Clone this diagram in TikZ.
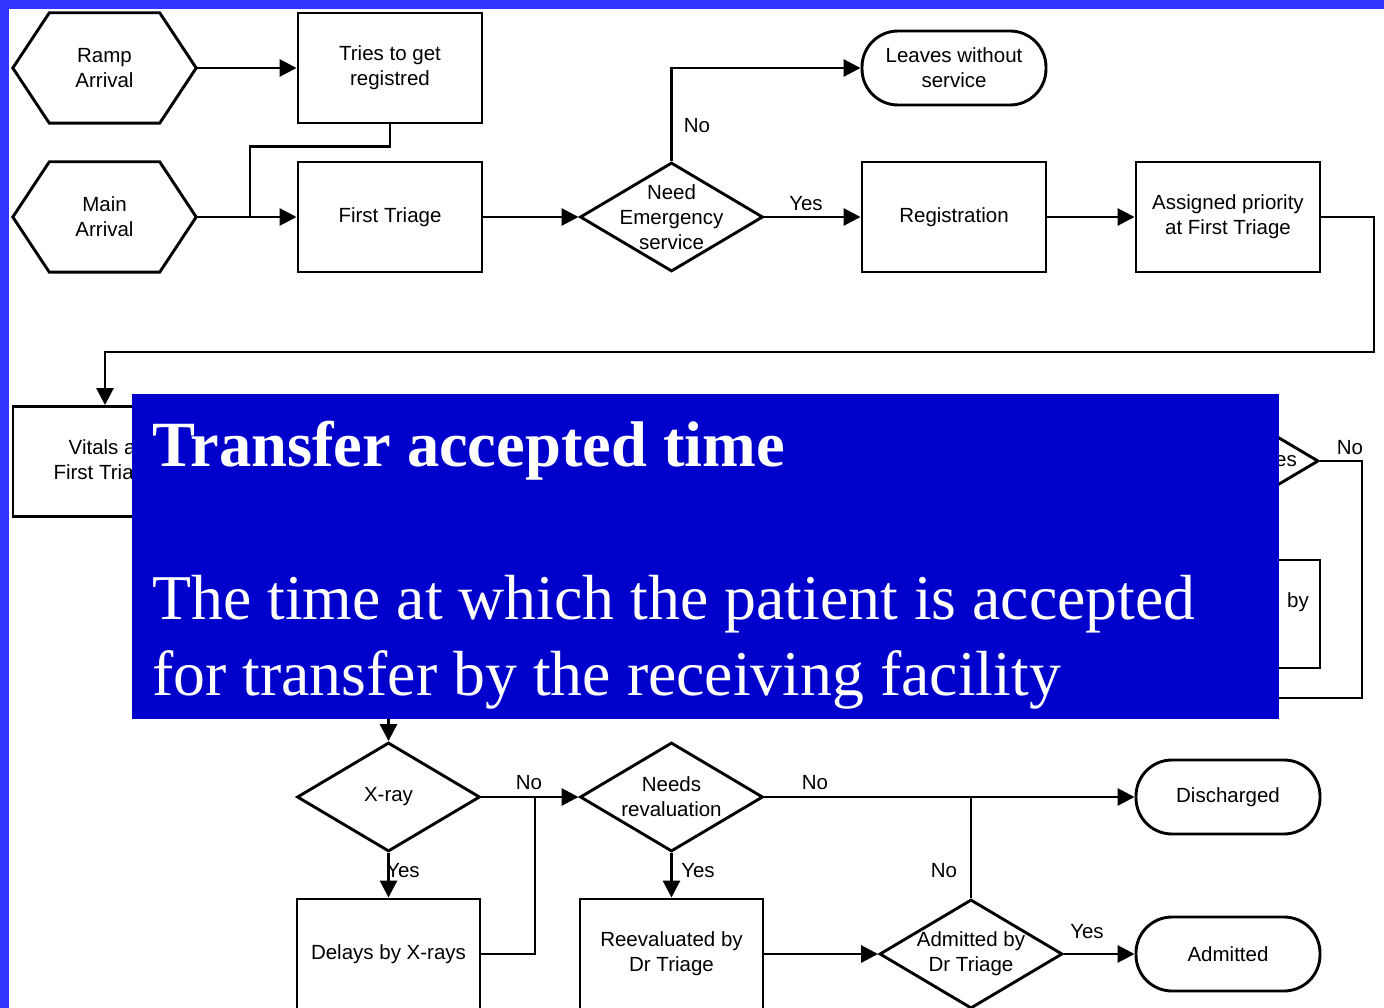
\documentclass[tikz,border=0pt]{standalone}
\usepackage{fontspec}
\setmainfont{Liberation Sans}
\newfontfamily\serifface{Liberation Serif}
\usetikzlibrary{shapes.geometric,arrows.meta}
\definecolor{frameblue}{HTML}{3333FF}
\definecolor{panelblue}{HTML}{0000CC}
\begin{document}
\begin{tikzpicture}[x=1pt,y=-1pt,
  line/.style={line width=2.9pt, line join=miter},
  flow/.style={line width=2.9pt, -{Triangle[length=17pt,width=17pt]}},
  plain/.style={line width=2.9pt},
  txt/.style={font=\fontsize{20.5}{25}\selectfont, align=center},
  procbox/.style={txt, draw, line width=2.9pt, minimum width=184pt, minimum height=110pt, inner sep=0pt},
  hexbox/.style={txt, minimum width=183pt, minimum height=110pt, inner sep=0pt},
  termbox/.style={txt, draw, line width=2.9pt, rounded corners=36pt, minimum width=184pt, minimum height=74pt, inner sep=0pt},
  decision/.style={diamond, draw, line width=2.9pt, minimum width=183pt, minimum height=109pt, inner sep=0pt},
  dtext/.style={txt, inner sep=0pt},
  lbl/.style={font=\fontsize{20.5}{25}\selectfont, inner sep=0pt}
]
% page and frame
\useasboundingbox (0,0) rectangle (1384,1008);
\fill[white] (0,0) rectangle (1384,1008);
\fill[frameblue] (0,0) rectangle (1384,9);
\fill[frameblue] (0,0) rectangle (9,1008);

% ---- top rows ----
\node[hexbox] (ramp) at (104.5,68) {Ramp\\Arrival};
\node[hexbox] (main) at (104.5,217) {Main\\Arrival};
\foreach \n in {ramp,main}
  \draw[line] (\n.west) -- ([xshift=36.5pt]\n.north west) -- ([xshift=-36.5pt]\n.north east)
    -- (\n.east) -- ([xshift=-36.5pt]\n.south east) -- ([xshift=36.5pt]\n.south west) -- cycle;

\node[procbox] (tries) at (390,68) {Tries to get\\registred};
\node[procbox] (triage1) at (390,217) {First Triage};
\node[decision] (need) at (671.5,217) {};
\node[dtext] (needt) at (671.5,217) {Need\\Emergency\\service};
\node[termbox] (leaves) at (954,68) {Leaves without\\service};
\node[procbox] (reg) at (954,217) {Registration};
\node[procbox] (assigned) at (1228,217) {Assigned priority\\at First Triage};

% ---- middle row ----
\node[procbox] (vitals) at (105,461.5) {Vitals at\\First Triage};
\node[decision] (hd) at (1227,461) {};
\node[lbl, anchor=east] (hdt) at (1297,461) {es};
\node[draw, line width=2.9pt, minimum width=184pt, minimum height=108pt] (bybox) at (1228,614) {};
\node[lbl, anchor=east] (byt) at (1309,602) {by};

% ---- bottom rows ----
\node[decision] (xray) at (388.5,797) {};
\node[dtext] (xrayt) at (388.5,797) {X-ray};
\node[procbox, minimum width=183pt] (delays) at (388.5,954) {Delays by X-rays};
\node[decision] (needs) at (671.5,797) {};
\node[dtext] (needst) at (671.5,797) {Needs\\revaluation};
\node[procbox, minimum width=183pt] (reeval) at (671.5,954) {Reevaluated by\\Dr Triage};
\node[decision] (adm) at (971,954) {};
\node[dtext] (admt) at (971,954) {Admitted by\\Dr Triage};
\node[termbox] (disch) at (1228,797) {Discharged};
\node[termbox] (admitted) at (1228,954) {Admitted};

% ---- connectors ----
\coordinate (j1) at (250,217);
\coordinate (c1) at (1374,352);
\coordinate (c2) at (1362,698);
\coordinate (j2) at (535,797);
\coordinate (j3) at (971,797);

\draw[flow] (ramp.east) -- (tries.west);
\draw[flow] (main.east) -- (triage1.west);
\draw[plain] (tries.south) -- ++(0,22) -| (j1);
\draw[flow] (triage1.east) -- (need.west);
\draw[flow] (need.north) |- (leaves.west);
\draw[flow] (need.east) -- (reg.west);
\draw[flow] (reg.east) -- (assigned.west);
\draw[flow] (assigned.east) -| (c1) -| (vitals.north);
\draw[flow] (hd.east) -| (c2) -| (xray.north);
\draw[flow] (xray.south) -- (delays.north);
\draw[flow] (xray.east) -- (needs.west);
\draw[plain] (delays.east) -| (j2);
\draw[flow] (needs.south) -- (reeval.north);
\draw[flow] (needs.east) -- (disch.west);
\draw[plain] (adm.north) -- (j3);
\draw[flow] (reeval.east) -- (adm.west);
\draw[flow] (adm.east) -- (admitted.west);

% ---- branch labels ----
\node[lbl] (l1) at (697,126) {No};
\node[lbl] (l2) at (806,204) {Yes};
\node[lbl] (l3) at (1350,448) {No};
\node[lbl] (l4) at (529,783) {No};
\node[lbl] (l5) at (403,871) {Yes};
\node[lbl] (l6) at (815,783) {No};
\node[lbl] (l7) at (698,871) {Yes};
\node[lbl] (l8) at (944,871) {No};
\node[lbl] (l9) at (1087,932) {Yes};

% ---- definition panel ----
\fill[panelblue] (132,394) rectangle (1279,719);
\node[anchor=base west, inner sep=0pt, text=white, font=\serifface\bfseries\fontsize{64.5}{77}\selectfont] (ttl) at (152,466) {Transfer accepted time};
\node[anchor=base west, inner sep=0pt, text=white, font=\serifface\fontsize{63.8}{77}\selectfont] (body1) at (152,619) {The time at which the patient is accepted};
\node[anchor=base west, inner sep=0pt, text=white, font=\serifface\fontsize{63.8}{77}\selectfont] (body2) at (152,695) {for transfer by the receiving facility};
\end{tikzpicture}
\end{document}
